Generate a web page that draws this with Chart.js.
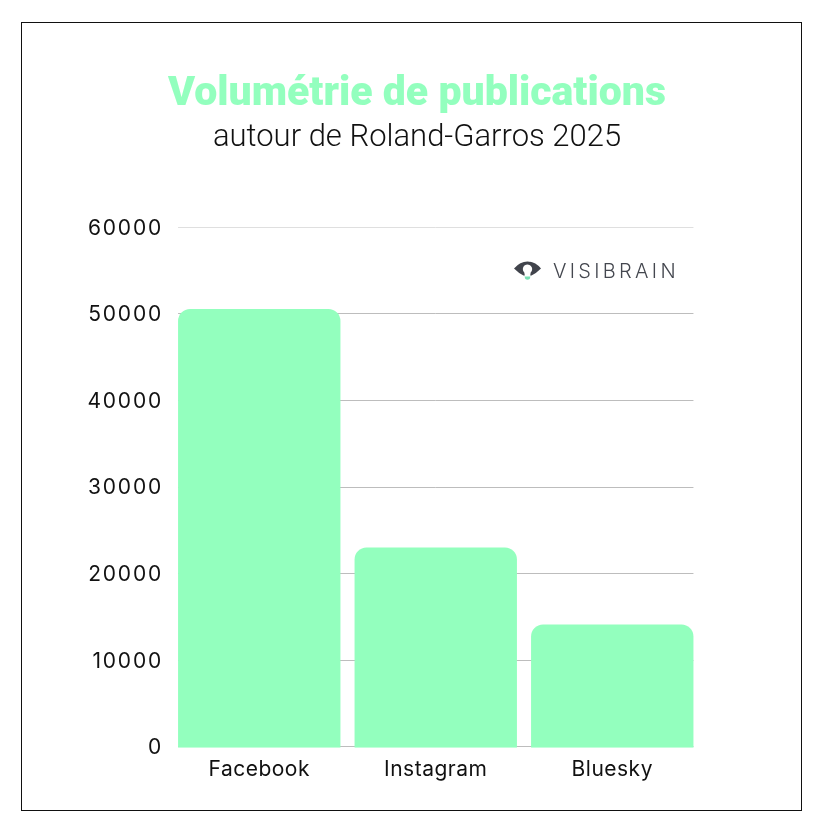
<!DOCTYPE html>
<html><head><meta charset="utf-8">
<style>
html,body{margin:0;padding:0;background:#fff;width:818px;height:828px;overflow:hidden}
#frame{position:absolute;left:21px;top:22px;width:779px;height:787px;border:1px solid #111;box-sizing:content-box;pointer-events:none}
#wrap{position:absolute;left:0;top:0;width:818px;height:828px}
#logo{position:absolute;left:514px;top:259px;height:24px;display:flex;align-items:center;gap:12px;font:300 20px Inter,sans-serif;letter-spacing:3.3px;color:#44474f}
</style>
<script src="https://cdn.jsdelivr.net/npm/chart.js@4"></script>
</head><body>
<div id="wrap"><canvas id="c" width="818" height="828"></canvas></div>
<div id="frame"></div>
<div id="logo"><svg width="27" height="22" viewBox="0 0 27 22"><path fill-rule="evenodd" d="M0 8.5 Q6 1.5 13.5 1.5 Q21 1.5 27 8.5 Q22 13.5 17.5 15.5 L9.5 15.5 Q5 13.5 0 8.5Z M13.5 4.5 a4.6 4.6 0 0 0 -3.2 7.9 L10.8 15.5 L16.2 15.5 L16.7 12.4 a4.6 4.6 0 0 0 -3.2 -7.9Z" fill="#41444c"/><path d="M10.5 16.5h6l-.8 2.6q-2.2 1.5-4.4 0z" fill="#79e0b4"/></svg><span>VISIBRAIN</span></div>
<script>
const categories = ['Facebook', 'Instagram', 'Bluesky'];
const publications = [50700, 23150, 14250];
const yTicks = [0, 10000, 20000, 30000, 40000, 50000, 60000];
const titleText = 'Volumétrie de publications';
const subtitleText = 'autour de Roland-Garros 2025';
const mint = '#93FFBE';

// Gridlines run only between the outer edges of the outer bars
const edgeGrid = {
  id: 'edgeGrid',
  beforeDatasetsDraw(chart) {
    const y = chart.scales.y, ctx = chart.ctx;
    const bars = chart.getDatasetMeta(0).data;
    const left = bars[0].x - bars[0].width / 2;
    const last = bars[bars.length - 1];
    const right = last.x + last.width / 2;
    ctx.save();
    ctx.lineWidth = 1;
    y.ticks.forEach(t => {
      const py = Math.floor(y.getPixelForValue(t.value)) - 0.5;
      ctx.strokeStyle = t.value === 60000 ? '#dfdfdf' : '#bdbdbd';
      ctx.beginPath(); ctx.moveTo(left, py); ctx.lineTo(right, py); ctx.stroke();
    });
    ctx.restore();
  }
};

// Tick labels are letter-spaced in the reference
const tickSpacing = {
  id: 'tickSpacing',
  afterLayout(chart) {
    [['x', '0.5px'], ['y', '1.8px']].forEach(([id, gap]) => {
      const s = chart.scales[id];
      if (s._spaced) return;
      s._spaced = true;
      const orig = s.drawLabels;
      s.drawLabels = function (area) {
        chart.ctx.letterSpacing = gap;
        orig.call(this, area);
        chart.ctx.letterSpacing = '0px';
      };
    });
  }
};

new Chart(document.getElementById('c'), {
  type: 'bar',
  plugins: [edgeGrid, tickSpacing],
  data: {
    labels: categories,
    datasets: [{
      data: publications,
      backgroundColor: mint,
      borderRadius: { topLeft: 12, topRight: 12, bottomLeft: 0, bottomRight: 0 },
      borderSkipped: false,
      categoryPercentage: 1,
      barPercentage: 0.92
    }]
  },
  options: {
    responsive: false,
    animation: false,
    devicePixelRatio: 1,
    layout: { padding: { left: 16, right: 0, top: 0, bottom: 45 } },
    plugins: {
      legend: { display: false },
      tooltip: { enabled: false },
      title: {
        display: true, text: titleText, color: mint,
        font: { family: 'Roboto', weight: '900', size: 41 },
        padding: { top: 70, bottom: 0 }
      },
      subtitle: {
        display: true, text: subtitleText, color: '#111',
        font: { family: 'Roboto', weight: '300', size: 31 },
        padding: { top: 0, bottom: 72 }
      }
    },
    scales: {
      x: {
        grid: { display: false },
        border: { display: false },
        ticks: { color: '#111', font: { family: 'Inter', size: 21 }, padding: 1, maxRotation: 0 }
      },
      y: {
        min: 0, max: 60000,
        afterBuildTicks(s) { s.ticks = yTicks.map(v => ({ value: v })); },
        afterFit(s) { s.width = 155; },
        grid: { display: false },
        border: { display: false },
        ticks: { color: '#111', font: { family: 'Inter', size: 21 }, padding: 0, callback: v => String(v) }
      },
      spacer: {
        type: 'linear', position: 'right', display: true,
        afterFit(s) { s.width = 117.5; },
        grid: { display: false },
        border: { display: false },
        ticks: { display: false }
      }
    }
  }
});
</script>
</body></html>
